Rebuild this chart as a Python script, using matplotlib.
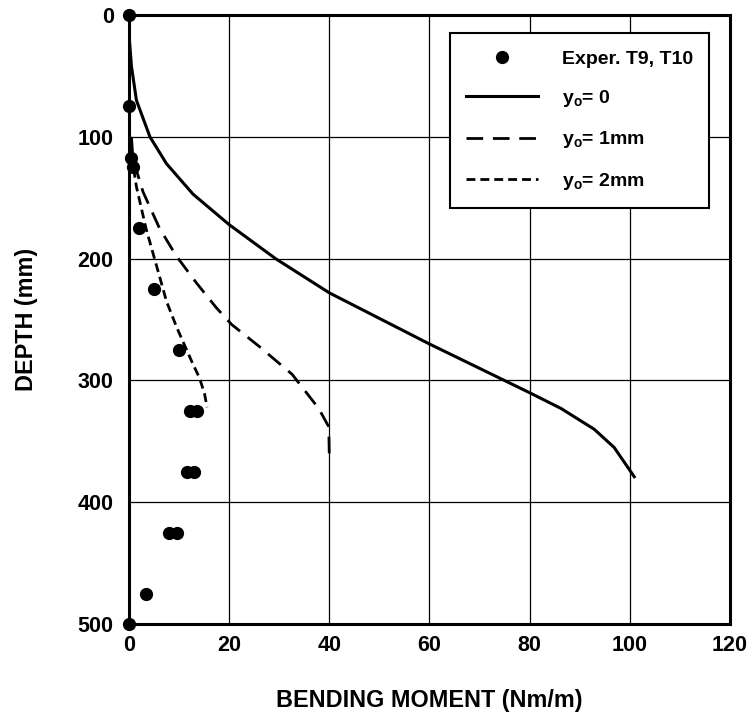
import matplotlib
matplotlib.use("Agg")
import matplotlib.pyplot as plt

# experimental points (T9, T10)
exp_moment = [0, 0, 0.5, 0.8, 2.1, 5.1, 9.9, 12.2, 13.5, 11.6, 13.0, 8.0, 9.5, 3.4, 0]
exp_depth = [0, 75, 117, 125, 175, 225, 275, 325, 325, 375, 375, 425, 425, 475, 500]

# y0 = 0
m_y0 = [0, 0.5, 1.5, 4.2, 7.5, 12.8, 20, 29.3, 40, 50, 60, 70, 80, 86.3, 92.9, 96.9, 100.9]
d_y0 = [15, 42, 70, 100, 122, 147, 172, 200, 228, 249, 270, 290, 310, 323, 340, 355, 379]

# y0 = 1mm
m_y1 = [0.5, 0.8, 2.8, 6.1, 9.5, 13.5, 17.4, 20.5, 26, 32.6, 37.9, 39.9, 40]
d_y1 = [100, 118, 145, 175, 198, 220, 240, 254, 272, 295, 323, 338, 360]

# y0 = 2mm
m_y2 = [0.5, 1.5, 3.4, 5.8, 7.5, 9.5, 11, 12.5, 14.1, 15.1, 15.6]
d_y2 = [115, 141, 175, 210, 235, 256, 270, 284, 298, 311, 322]

labels = ["Exper. T9, T10", "y$_\\mathrm{o}$= 0", "y$_\\mathrm{o}$= 1mm", "y$_\\mathrm{o}$= 2mm"]

plt.rcParams['font.family'] = ['Liberation Sans', 'DejaVu Sans']
plt.rcParams['font.weight'] = 'bold'
plt.rcParams['mathtext.fontset'] = 'custom'
plt.rcParams['mathtext.rm'] = 'Liberation Sans:bold'
plt.rcParams['mathtext.it'] = 'Liberation Sans:bold'

fig = plt.figure(figsize=(7.54, 7.19), dpi=100)
ax = fig.add_axes([0.171, 0.132, 0.797, 0.847])

ax.plot(exp_moment, exp_depth, 'o', color='black', markersize=8.5, clip_on=False, zorder=5, label=labels[0])
ax.plot(m_y0, d_y0, '-', color='black', lw=2.2, label=labels[1])
ax.plot(m_y1, d_y1, color='black', lw=2.0, dashes=(6, 3.5), label=labels[2])
ax.plot(m_y2, d_y2, color='black', lw=2.0, dashes=(3.2, 1.8), label=labels[3])

ax.set_xlim(0, 120)
ax.set_ylim(500, 0)
ax.set_xticks(range(0, 121, 20))
ax.set_yticks(range(0, 501, 100))
ax.grid(True, color='black', lw=0.9)
ax.tick_params(length=0, labelsize=15.5)
ax.tick_params(axis='y', pad=11)
ax.tick_params(axis='x', pad=8)
for lab in ax.get_xticklabels() + ax.get_yticklabels():
    lab.set_fontweight('bold')
for s in ax.spines.values():
    s.set_linewidth(2.2)

ax.set_xlabel("BENDING MOMENT (Nm/m)", fontsize=16.8, fontweight='bold')
ax.xaxis.set_label_coords(0.5, -0.106)
ax.set_ylabel("DEPTH (mm)", fontsize=16.8, fontweight='bold')
ax.yaxis.set_label_coords(-0.152, 0.5)

leg = ax.legend(loc='upper left', bbox_to_anchor=(0.534, 0.970), fontsize=14,
                frameon=True, fancybox=False, framealpha=1, edgecolor='black',
                handlelength=3.7, labelspacing=1.05, borderpad=0.85, handletextpad=1.2,
                borderaxespad=0)
leg.get_frame().set_linewidth(1.5)

fig.savefig("out.png", dpi=100)
